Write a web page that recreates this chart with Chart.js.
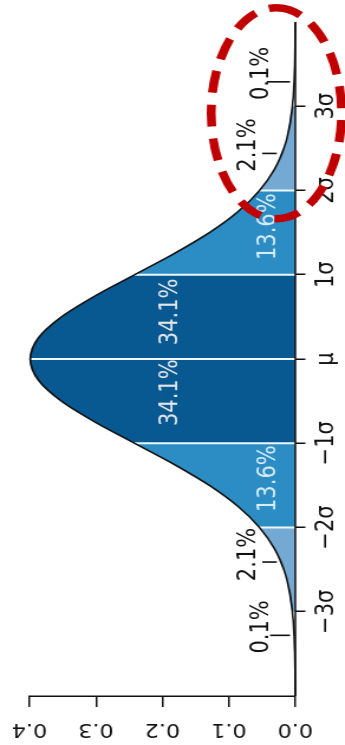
<!DOCTYPE html>
<html><head><meta charset="utf-8">
<script src="https://cdn.jsdelivr.net/npm/chart.js@4.4.1/dist/chart.umd.min.js"></script>
<style>
html,body{margin:0;padding:0;background:#fff;overflow:hidden;width:345px;height:745px;}
#wrap{position:absolute;left:0;top:0;width:745px;height:292px;transform-origin:0 0;transform:translate(0,745px) rotate(-90deg) scaleY(1.1815);}
canvas{display:block;}
</style></head><body>
<div id="wrap"><canvas id="c" width="745" height="292"></canvas></div>
<script>
// ---- data ----
const sigmaPoints = [-4,-3.75,-3.5,-3.25,-3,-2.75,-2.5,-2.25,-2,-1.75,-1.5,-1.25,-1,-0.75,-0.5,-0.25,0,
  0.25,0.5,0.75,1,1.25,1.5,1.75,2,2.25,2.5,2.75,3,3.25,3.5,3.75,4];
const densityValues = [0.0001,0.0004,0.0009,0.0020,0.0044,0.0091,0.0175,0.0317,0.0540,0.0863,0.1295,0.1826,0.2420,0.3011,0.3521,0.3867,0.3989,
  0.3867,0.3521,0.3011,0.2420,0.1826,0.1295,0.0863,0.0540,0.0317,0.0175,0.0091,0.0044,0.0020,0.0009,0.0004,0.0001];
const xTickValues = [-3,-2,-1,0,1,2,3];
const xTickLabels = ['\u22123\u03c3','\u22122\u03c3','\u22121\u03c3','\u03bc','1\u03c3','2\u03c3','3\u03c3'];
const yTickValues = [0,0.1,0.2,0.3,0.4];
const yTickLabels = ['0.0','0.1','0.2','0.3','0.4'];
const regionBounds = [[-3,-2],[-2,-1],[-1,1],[1,2],[2,3]];
const dividerSigmas = [-2,-1,0,1,2];
const pctLabels = ['0.1%','2.1%','13.6%','34.1%','34.1%','13.6%','2.1%','0.1%'];
const pctSigma = [-3.18,-2.32,-1.42,-0.40,0.56,1.57,2.54,3.39];
const pctDensity = [0.050,0.070,0.040,0.188,0.188,0.040,0.070,0.050];
const pointerSigma = [-3.28,-2.41,2.44,3.29];
const pointerFrom = [0.008,0.028,0.028,0.008];
const pointerTo = [0.038,0.050,0.050,0.043];

// ---- styles ----
const regionColors = ['#74a9d4','#2c8cc4','#085891','#2c8cc4','#74a9d4'];
const pctColors = ['#111','#111','#d6ecf7','#e2e6ea','#e2e6ea','#d6ecf7','#111','#111'];
const FONT = '"DejaVu Sans", sans-serif';
// highlight annotation (in data units)
const highlight = {sigma: 2.917, density: 0.0286, halfSigma: 1.252, halfDensity: 0.098};

const curve = sigmaPoints.map((s,i)=>({x:s,y:densityValues[i]}));
const datasets = [];
datasets.push({data: curve, borderColor:'#111', borderWidth:1.6, pointRadius:0, fill:false,
  cubicInterpolationMode:'monotone', order:0, clip:false});
datasets.push({data: [{x:sigmaPoints[0],y:0},{x:sigmaPoints[sigmaPoints.length-1],y:0}],
  borderColor:'#111', borderWidth:1.6, pointRadius:0, fill:false, order:0, clip:false});
pointerSigma.forEach((s,i)=>datasets.push({data:[{x:s,y:pointerFrom[i]},{x:s,y:pointerTo[i]}],
  borderColor:'#111', borderWidth:1.6, pointRadius:0, fill:false, order:0, clip:false}));
dividerSigmas.forEach(s=>{
  const d = densityValues[sigmaPoints.indexOf(s)];
  datasets.push({data:[{x:s,y:0},{x:s,y:d}], borderColor:'#eef7fc', borderWidth:2,
    pointRadius:0, fill:false, order:1, clip:false});
});
regionBounds.forEach((b,i)=>{
  const pts = curve.filter(p=>p.x>=b[0]-1e-9 && p.x<=b[1]+1e-9);
  datasets.push({data:pts, borderWidth:0, borderColor:'rgba(0,0,0,0)', backgroundColor:regionColors[i],
    fill:'origin', pointRadius:0, cubicInterpolationMode:'monotone', order:2, clip:false});
});

const overlay = {
  id:'overlay',
  afterDraw(chart){
    const ctx = chart.ctx, xs = chart.scales.x, ys = chart.scales.y;
    ctx.save();
    // y tick labels (parallel to the axis)
    ctx.fillStyle = '#111';
    ctx.font = '19px ' + FONT;
    ctx.textAlign = 'center'; ctx.textBaseline = 'middle';
    yTickValues.forEach((v,i)=>{
      ctx.save();
      ctx.translate(16.5, ys.getPixelForValue(v));
      ctx.rotate(-Math.PI/2);
      ctx.fillText(yTickLabels[i], 0, 0);
      ctx.restore();
    });
    // percentage labels
    ctx.font = '21px ' + FONT;
    pctLabels.forEach((t,i)=>{
      ctx.fillStyle = pctColors[i];
      ctx.fillText(t, xs.getPixelForValue(pctSigma[i]), ys.getPixelForValue(pctDensity[i]));
    });
    // red dashed highlight ellipse
    const cx = xs.getPixelForValue(highlight.sigma), cy = ys.getPixelForValue(highlight.density);
    const rx = Math.abs(xs.getPixelForValue(highlight.sigma+highlight.halfSigma)-cx);
    const ry = Math.abs(ys.getPixelForValue(highlight.density+highlight.halfDensity)-cy);
    ctx.strokeStyle = '#c00000'; ctx.lineWidth = 7.5; ctx.setLineDash([22,12]);
    ctx.beginPath(); ctx.ellipse(cx, cy, rx, ry, 0, 0, Math.PI*2); ctx.stroke();
    ctx.restore();
  }
};

new Chart(document.getElementById('c'), {
  type:'line',
  data:{datasets},
  options:{
    responsive:false, animation:false, devicePixelRatio:1,
    layout:{padding:{left:0,right:22,top:25,bottom:0}},
    plugins:{legend:{display:false}, tooltip:{enabled:false}, title:{display:false}},
    scales:{
      x:{type:'linear', min:-4, max:4,
        afterBuildTicks(s){ s.ticks = xTickValues.map(v=>({value:v})); },
        afterFit(s){ s.height = 42; },
        border:{display:false},
        grid:{display:true, drawOnChartArea:false, drawTicks:true, tickLength:8.5, color:'#111', lineWidth:1.5},
        ticks:{padding:5, color:'#111', font:{family:FONT, size:21}, maxRotation:0, minRotation:0,
          callback(v){ const i = xTickValues.indexOf(v); return i>=0 ? xTickLabels[i] : ''; }}
      },
      y:{type:'linear', min:0, max:0.4,
        afterBuildTicks(s){ s.ticks = yTickValues.map(v=>({value:v})); },
        afterFit(s){ s.width = 49; },
        border:{display:true, color:'#111', width:1.5},
        grid:{display:true, drawOnChartArea:false, drawTicks:true, tickLength:11, color:'#111', lineWidth:1.5},
        ticks:{display:false}
      }
    }
  },
  plugins:[overlay]
});
</script>
</body></html>
